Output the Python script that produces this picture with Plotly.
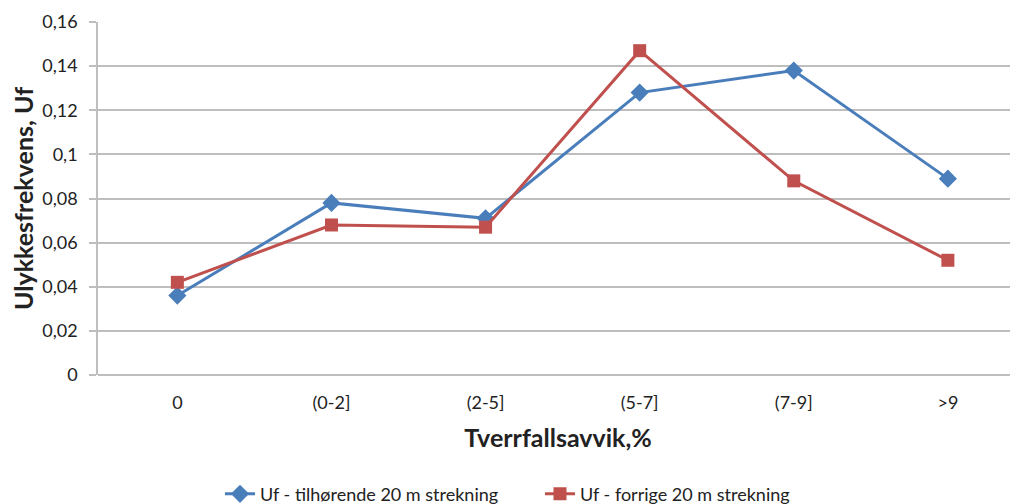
import plotly.graph_objects as go

categories = ["0", "(0-2]", "(2-5]", "(5-7]", "(7-9]", ">9"]
uf_tilhorende = [0.036, 0.078, 0.071, 0.128, 0.138, 0.089]
uf_forrige = [0.042, 0.068, 0.067, 0.147, 0.088, 0.052]
y_ticks = [0, 0.02, 0.04, 0.06, 0.08, 0.1, 0.12, 0.14, 0.16]
y_tick_labels = ["0", "0,02", "0,04", "0,06", "0,08", "0,1", "0,12", "0,14", "0,16"]

BLUE = "#4A7EBB"
RED = "#C0504D"
FONT = "Lato"

fig = go.Figure()
fig.add_trace(go.Scatter(
    x=list(range(len(categories))), y=uf_tilhorende, mode="lines+markers",
    name="Uf - tilhørende 20 m strekning",
    line=dict(color=BLUE, width=3),
    marker=dict(symbol="diamond", size=14, color=BLUE),
))
fig.add_trace(go.Scatter(
    x=list(range(len(categories))), y=uf_forrige, mode="lines+markers",
    name="Uf - forrige 20 m strekning",
    line=dict(color=RED, width=3),
    marker=dict(symbol="square", size=13, color=RED),
))

fig.update_layout(
    width=1010, height=496,
    margin=dict(l=90, r=0, t=14, b=129, autoexpand=False),
    paper_bgcolor="white", plot_bgcolor="white",
    font=dict(family=FONT, size=18, color="#222222"),
    showlegend=True,
    legend=dict(orientation="h", x=0.1326, xanchor="left",
                y=0.02, yanchor="middle", yref="container",
                font=dict(family=FONT, size=18, color="#222222"),
                entrywidth=275, entrywidthmode="pixels",
                itemwidth=30, tracegroupgap=0),
    xaxis=dict(
        range=[-0.515, 5.455], tickmode="array",
        tickvals=list(range(len(categories))), ticktext=categories,
        showgrid=False, zeroline=False, showline=False, ticks="",
        ticklabelstandoff=15,
        tickfont=dict(family=FONT, size=18),
        title=dict(text="<b>Tverrfallsavvik,%</b>", font=dict(family=FONT, size=25), standoff=17),
    ),
    yaxis=dict(
        range=[0, 0.16], tickmode="array", tickvals=y_ticks, ticktext=y_tick_labels,
        showgrid=True, gridcolor="#BEBEBE", gridwidth=1.5,
        zeroline=True, zerolinecolor="#BEBEBE", zerolinewidth=1.5,
        showline=True, linecolor="#BEBEBE", linewidth=1.5,
        ticks="outside", ticklen=7, tickcolor="#BEBEBE", tickwidth=1.5,
        ticklabelstandoff=8,
        tickfont=dict(family=FONT, size=18),
        title=dict(text="<b>Ulykkesfrekvens, Uf</b>", font=dict(family=FONT, size=25), standoff=13),
    ),
)

fig.write_html("out.html")
